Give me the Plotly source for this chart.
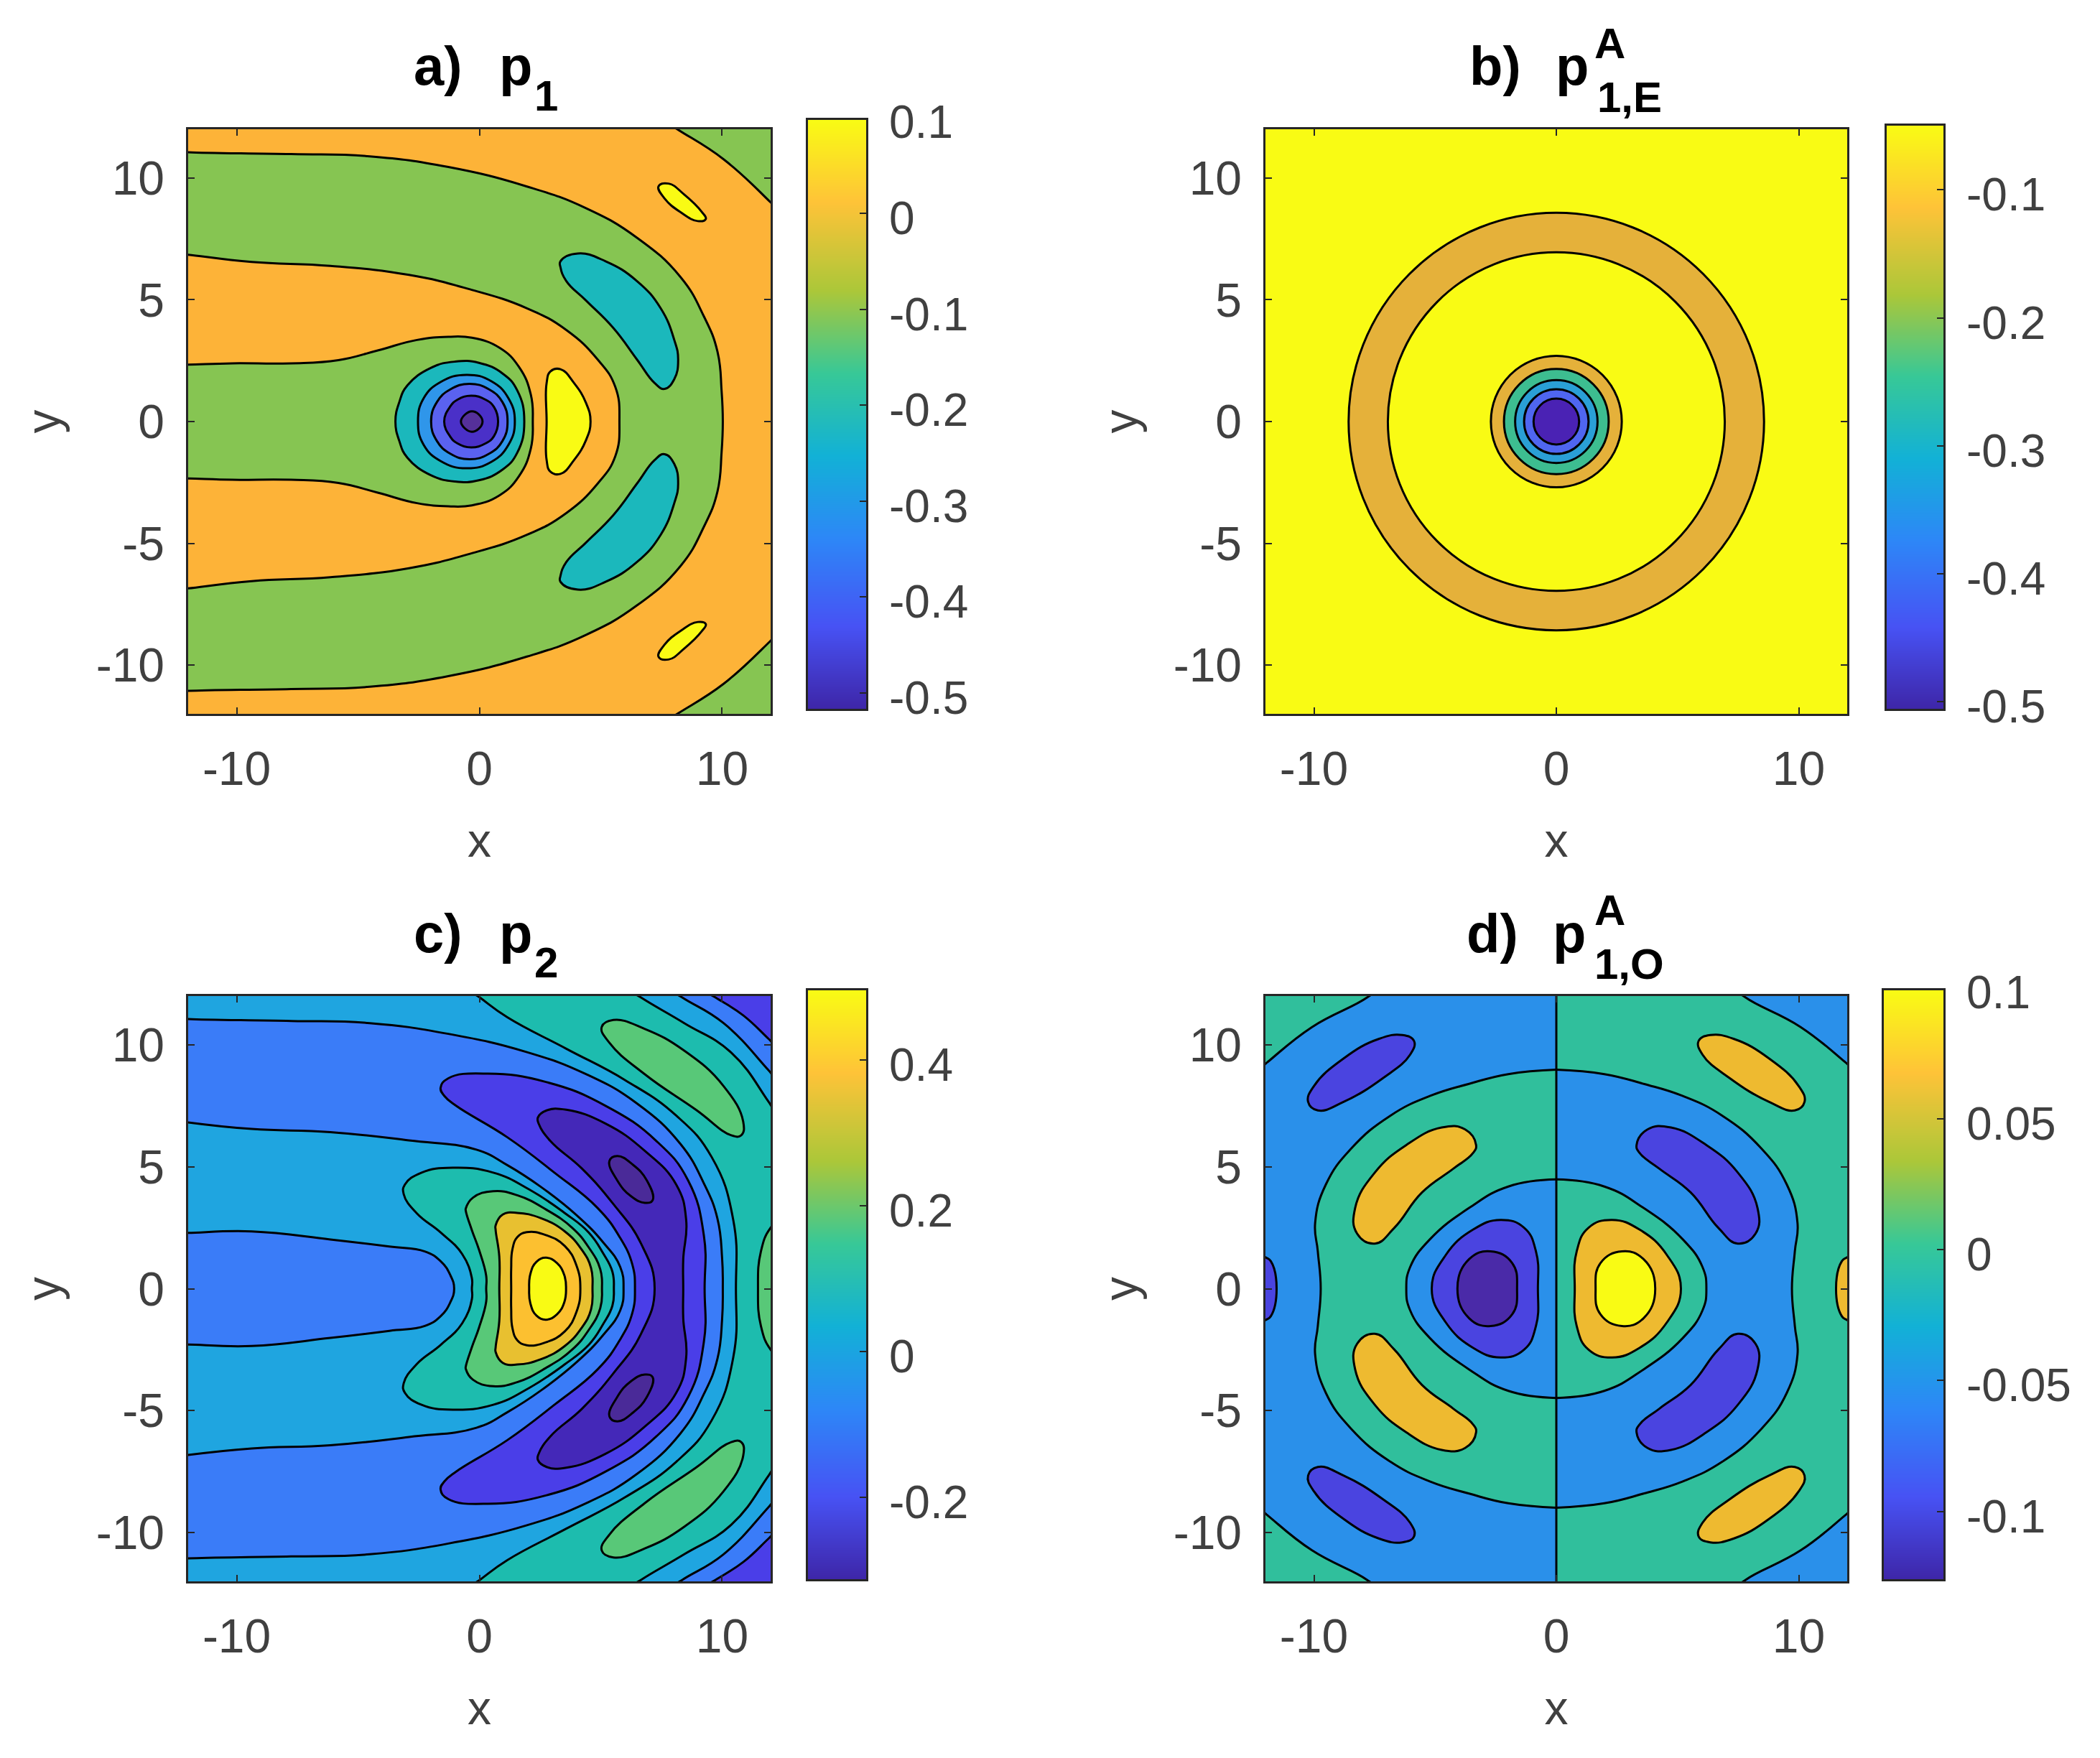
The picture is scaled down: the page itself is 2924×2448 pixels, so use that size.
import plotly.graph_objects as go

W, H = 2924, 2448
LW = 3
TICK_GREY = "#404040"

PARULA = [[0.0, "#3e26a8"], [0.14, "#4752f4"], [0.29, "#2d87f7"], [0.43, "#12b1d6"],
          [0.57, "#37c897"], [0.71, "#abc739"], [0.86, "#fec338"], [1.0, "#f9fb14"]]

# ---------------- panel a) p1 : isolines (x, y), upper half
A_OUTER = [(-12.5,11.1),(-12,11.06),(-7.76,10.98),(-4.52,10.89),(-1.28,10.45),(1.96,9.65),(4.39,8.76),(6.49,7.55),(8.28,5.94),(9.25,4.32),(9.81,2.87),(9.98,1.26),(10.03,0)]
A_MID = [(-12.5,6.9),(-12,6.85),(-9.38,6.55),(-6.14,6.39),(-2.9,6.02),(-0.47,5.45),(1.96,4.65),(3.58,3.76),(4.87,2.55),(5.6,1.42),(5.77,0)]
A_INNER = [(-12.5,2.34),(-12,2.34),(-10.19,2.39),(-7.76,2.39),(-5.81,2.52),(-4.19,2.92),(-2.57,3.35),(-1.28,3.48),(-0.31,3.44),(0.83,3.03),(1.64,2.23),(2.12,1.10),(2.2,0)]
A_RING1 = [(-3.46,0),(-3.3,0.8),(-2.97,1.48),(-1.99,2.21),(-1.0,2.46),(-0.02,2.41),(0.96,1.97),(1.56,1.28),(1.85,0)]
A_RING2 = [(-2.53,0),(-2.3,0.95),(-1.6,1.62),(-0.53,1.92),(0.5,1.65),(1.2,0.95),(1.46,0)]
A_RING3 = [(-1.99,0),(-1.75,0.8),(-1.2,1.32),(-0.41,1.55),(0.4,1.32),(0.95,0.8),(1.16,0)]
A_RING4 = [(-1.45,0),(-1.2,0.62),(-0.9,0.9),(-0.34,1.06),(0.25,0.9),(0.6,0.6),(0.77,0)]
A_RING5 = [(-0.76,0),(-0.6,0.28),(-0.31,0.42),(-0.03,0.3),(0.13,0)]
A_TEAL = [(3.34,6.58),(4.06,6.9),(5.2,6.58),(6.49,5.77),(7.47,4.65),(8.03,3.35),(8.19,2.55),(8.03,1.74),(7.63,1.34),(7.22,1.58),(6.49,2.55),(5.52,3.84),(4.39,4.97),(3.58,5.77),(3.34,6.34)]
A_LENS = [(2.77,0),(2.77,1.58),(2.93,2.06),(3.34,2.15),(3.9,1.58),(4.39,0.77),(4.58,0)]
A_SMALL = [(7.38,9.65),(7.79,9.77),(8.44,9.32),(9.17,8.6),(9.33,8.32),(9.0,8.23),(8.28,8.6),(7.63,9.16)]
A_CORNER = [(7.7,12.3),(8.19,11.98),(10.06,10.77),(12,9.0),(12.4,8.6),(12.5,12.5)]

# ---------------- panel b) p1,E^A : contour radii
B_RADII = [8.57, 6.95, 2.7, 2.16, 1.7, 1.33, 0.94]
B_FILLS = ["#e5b13a", "#f9fb14", "#e5b13a", "#3dbd90", "#2a9fd6", "#4f66f0", "#4a22b4"]

# ---------------- panel c) p2
C_BLUE = [(-12.5,11.1),(-12,11.06),(-7.76,10.98),(-4.52,10.89),(-1.28,10.45),(1.96,9.7),(4.39,8.8),(6.49,7.6),(8.28,5.94),(9.25,4.32),(9.81,2.87),(10.0,1.26),(10.03,0)]
C_LB = [(-12.5,6.9),(-12,6.82),(-9.38,6.55),(-6.14,6.42),(-2.9,6.08),(-0.12,5.7),(1.16,5.06),(2.54,4.17),(4.02,3.0),(5.1,1.9),(5.8,0.9),(5.94,0)]
C_LOBE = [(-12.5,2.29),(-12,2.29),(-9.38,2.35),(-6.14,2.02),(-3.71,1.73),(-2.25,1.53),(-1.6,1.13),(-1.2,0.56),(-1.04,0)]
C_TEAL_IN = [(-0.31,0),(-0.31,0.43),(-0.71,1.42),(-1.59,2.3),(-2.58,3.09),(-3.12,3.88),(-3.07,4.27),(-2.38,4.76),(-1.1,4.96),(0.57,4.76),(2.05,4.07),(3.52,3.1),(4.51,2.3),(5.1,1.45),(5.48,0.7),(5.54,0)]
C_GREEN = [(0.28,0),(0.28,0.53),(-0.02,1.61),(-0.31,2.4),(-0.56,3.19),(-0.56,3.29),(-0.27,3.73),(0.57,4.0),(1.56,3.83),(2.74,3.25),(3.82,2.5),(4.5,1.7),(4.98,0.8),(5.05,0)]
C_GOLD = [(0.82,0),(0.82,1.32),(0.67,2.4),(0.67,2.6),(0.96,3.04),(1.56,3.11),(2.54,2.89),(3.52,2.35),(4.21,1.61),(4.6,0.85),(4.66,0)]
C_ORANGE = [(1.31,0),(1.31,0.83),(1.36,1.61),(1.56,2.11),(1.95,2.32),(2.74,2.2),(3.52,1.75),(4.0,0.95),(4.16,0)]
C_YELLOW = [(2.05,0),(2.1,0.6),(2.35,1.1),(2.75,1.27),(3.2,1.05),(3.5,0.55),(3.57,0)]
C_VIOLET_OUT = [(-1.6,8.23),(-1.28,8.63),(0.34,8.82),(2.77,8.47),(5.2,7.5),(7.3,6.05),(8.6,4.44),(9.25,2.18),(9.28,0)]
C_VIOLET_IN = [(6.41,0),(6.3,1.0),(5.79,2.1),(4.87,3.31),(3.09,4.76),(1.15,6.21),(-0.96,7.5),(-1.44,7.9)]
C_INDIGO_OUT = [(2.41,7.02),(2.77,7.31),(3.58,7.34),(5.2,6.77),(6.82,5.65),(8.11,4.27),(8.52,2.82),(8.4,1.21),(8.4,0)]
C_INDIGO_IN = [(7.22,0),(6.66,1.85),(5.52,3.47),(4.23,4.92),(2.93,6.05),(2.45,6.75)]
C_DARK = [(5.36,5.24),(5.68,5.44),(6.33,5.08),(6.9,4.44),(7.14,3.63),(6.82,3.52),(6.25,3.79),(5.68,4.44)]
C_TEAL_OUT = [(-0.6,12.4),(0.02,11.94),(1.15,11.13),(3.58,9.84),(6.01,8.55),(8.11,7.1),(9.57,5.4),(10.46,2.82),(10.57,0)]
C_A = [(6.0,12.4),(6.66,11.94),(8.44,10.89),(10.38,9.68),(11.92,7.66),(12.5,6.8),(12.6,12.6)]
C_B = [(7.7,12.4),(8.36,11.94),(10.06,10.89),(11.92,8.95),(12.5,8.3),(12.6,12.6)]
C_C = [(9.0,12.4),(9.73,11.94),(10.87,11.21),(11.92,10.24),(12.5,9.7),(12.6,12.6)]
C_BLOB = [(5.04,10.73),(5.52,11.02),(6.82,10.65),(8.44,9.76),(10.06,8.31),(10.87,6.85),(10.79,6.29),(10.38,6.29),(8.92,7.34),(6.82,8.79),(5.36,10.08)]
C_EDGE = [(12.6,3.0),(12,2.5),(11.6,1.53),(11.48,0)]

# ---------------- panel d) p1,O^A (right half; the left half is the mirror with levels swapped)
D_E = [(0,8.98),(1.98,8.8),(3.6,8.4),(5.22,7.9),(6.84,7.1),(8.46,5.75),(9.51,4.27),(9.95,2.7),(9.84,1.53),(9.72,0)]
D_F = [(0,4.48),(1.98,4.19),(3.6,3.31),(5.22,2.02),(6.03,0.89),(6.19,0)]
D_CORNER = [(7.3,12.4),(7.81,11.94),(10.08,10.73),(11.94,9.27),(12.5,8.8),(12.6,12.6)]
D_SMALL = [(5.87,10.16),(6.35,10.4),(7.33,10.24),(8.78,9.44),(10,8.31),(10.24,7.66),(9.84,7.31),(8.78,7.66),(7.16,8.63),(6.03,9.6)]
D_BIG = [(3.31,5.89),(3.76,6.53),(4.73,6.61),(6.19,5.89),(7.49,4.76),(8.3,3.31),(8.22,2.26),(7.49,1.85),(6.68,2.5),(5.54,3.95),(4.25,4.92),(3.44,5.56)]
D_CORE = [(0.76,0),(0.84,1.53),(1.33,2.5),(2.3,2.82),(3.44,2.42),(4.57,1.37),(5.14,0)]
D_PEAK = [(1.62,0),(1.82,1.05),(2.71,1.53),(3.6,1.21),(4.08,0)]
D_EDGE = [(12.6,1.6),(12,1.29),(11.78,1.13),(11.54,0)]

XTICKS = [-10, 0, 10]
YTICKS = [-10, -5, 0, 5, 10]

# colorbars: (bar top value, bar bottom value, tick values, tick labels)
CB_A = (0.0973, -0.5165, [0.1, 0, -0.1, -0.2, -0.3, -0.4, -0.5], ["0.1", "0", "-0.1", "-0.2", "-0.3", "-0.4", "-0.5"])
CB_B = (-0.0498, -0.5056, [-0.1, -0.2, -0.3, -0.4, -0.5], ["-0.1", "-0.2", "-0.3", "-0.4", "-0.5"])
CB_C = (0.496, -0.312, [0.4, 0.2, 0, -0.2], ["0.4", "0.2", "0", "-0.2"])
CB_D = (0.099, -0.1259, [0.1, 0.05, 0, -0.05, -0.1], ["0.1", "0.05", "0", "-0.05", "-0.1"])


def mirror(pts):
    """close an upper-half isoline through its reflection in y = 0"""
    low = [(x, -y) for x, y in reversed(pts) if y != 0]
    return list(pts) + low

def flipy(pts):
    return [(x, -y) for x, y in pts]

def negx(pts):
    return [(-x, y) for x, y in pts]

def closed(pts):
    return list(pts) + [pts[0]]

fig = go.Figure()

def area(pts, color, ax, line=True, spline=True, close=True):
    p = closed(pts) if close else list(pts)
    fig.add_trace(go.Scatter(
        x=[a for a, _ in p], y=[b for _, b in p], mode="lines",
        fill="toself", fillcolor=color, hoverinfo="skip", showlegend=False,
        line=dict(color="#000000" if line else color, width=LW if line else 0,
                  shape="spline" if spline else "linear", smoothing=1.3, simplify=False),
        xaxis="x" + ax, yaxis="y" + ax))

def backdrop(color, ax, x0=-12.6, x1=12.6):
    area([(x0, -12.6), (x1, -12.6), (x1, 12.6), (x0, 12.6)], color, ax, line=False, spline=False)

# ---- a
ORANGE, GREEN, TEAL, YEL = "#fdb338", "#86c552", "#1bb8bc", "#f9fb14"
backdrop(ORANGE, "")
area(A_CORNER, GREEN, "")
area(flipy(A_CORNER), GREEN, "")
area(mirror(A_OUTER), GREEN, "")
area(mirror(A_MID), ORANGE, "")
area(mirror(A_INNER), GREEN, "")
area(A_TEAL, TEAL, "")
area(flipy(A_TEAL), TEAL, "")
area(mirror(A_LENS), YEL, "")
area(A_SMALL, YEL, "")
area(flipy(A_SMALL), YEL, "")
for ring, c in zip([A_RING1, A_RING2, A_RING3, A_RING4, A_RING5],
                   [TEAL, "#2f96ea", "#5a62f0", "#4a30c8", "#55309a"]):
    area(mirror(ring), c, "")

# ---- b
backdrop(YEL, "2")
for r, c in zip(B_RADII, B_FILLS):
    fig.add_shape(type="circle", xref="x2", yref="y2", x0=-r, x1=r, y0=-r, y1=r,
                  fillcolor=c, line=dict(color="#000000", width=LW), layer="above")

# ---- c
LB, BLUE, VIOLET, INDIGO, DARK = "#1fa5e0", "#3a7cf8", "#4a3ee8", "#4428b8", "#4a2a98"
CTEAL, CGREEN, GOLD, CORANGE = "#1dbcae", "#58c878", "#e8c030", "#fcc030"
backdrop(LB, "3")
area(mirror(C_TEAL_OUT) + [(12.8, -12.6), (12.8, 12.6)], CTEAL, "3")
for poly, c in [(C_A, LB), (C_B, BLUE), (C_C, VIOLET)]:
    area(poly, c, "3")
    area(flipy(poly), c, "3")
area(C_BLOB, CGREEN, "3")
area(flipy(C_BLOB), CGREEN, "3")
area(mirror(C_EDGE), CGREEN, "3")
area(mirror(C_BLUE), BLUE, "3")
area(C_VIOLET_OUT + flipy(C_VIOLET_OUT)[::-1][1:] + flipy(C_VIOLET_IN)[::-1] + C_VIOLET_IN[1:], VIOLET, "3")
area(C_INDIGO_OUT + flipy(C_INDIGO_OUT)[::-1][1:] + flipy(C_INDIGO_IN)[::-1] + C_INDIGO_IN[1:], INDIGO, "3")
area(C_DARK, DARK, "3")
area(flipy(C_DARK), DARK, "3")
area(mirror(C_LB), LB, "3")
area(mirror(C_LOBE), BLUE, "3")
area(mirror(C_TEAL_IN), CTEAL, "3")
area(mirror(C_GREEN), CGREEN, "3")
area(mirror(C_GOLD), GOLD, "3")
area(mirror(C_ORANGE), CORANGE, "3")
area(mirror(C_YELLOW), YEL, "3")

# ---- d
DLB, DGREEN, DGOLD, DVIOLET, DDARK = "#2a90ea", "#30bf9c", "#eeba30", "#4a44e0", "#4a2aa8"
def half(sign, outer_c, inner_c, hi_c, top_c, edge_c):
    f = (lambda p: p) if sign > 0 else negx
    backdrop(outer_c, "4", *((0, 12.6) if sign > 0 else (-12.6, 0)))
    area(f(D_CORNER), inner_c, "4")
    area(f(flipy(D_CORNER)), inner_c, "4")
    area(f(mirror(D_E)), inner_c, "4", close=False)
    area(f(mirror(D_F)), outer_c, "4", close=False)
    for blob, c in [(D_SMALL, hi_c), (D_BIG, edge_c)]:
        area(f(blob), c, "4")
        area(f(flipy(blob)), c, "4")
    area(f(mirror(D_CORE)), hi_c, "4")
    area(f(mirror(D_PEAK)), top_c, "4")
    area(f(mirror(D_EDGE)), hi_c, "4")

half(+1, DGREEN, DLB, DGOLD, YEL, DVIOLET)
half(-1, DLB, DGREEN, DVIOLET, DDARK, DGOLD)
fig.add_trace(go.Scatter(x=[0, 0], y=[-12, 12], mode="lines", hoverinfo="skip", showlegend=False,
                         line=dict(color="#000000", width=LW), xaxis="x4", yaxis="y4"))

# ---- layout
def fx(px): return px / W
def fy(py): return 1 - py / H

PANELS = {"": (262, 1073, 180, 994), "2": (1762, 2572, 180, 994),
          "3": (262, 1073, 1387, 2202), "4": (1762, 2572, 1387, 2202)}
BARS = {"5": (1125, 1206, 167, 987, CB_A), "6": (2627, 2706, 175, 987, CB_B),
        "7": (1125, 1206, 1379, 2199, CB_C), "8": (2623, 2706, 1379, 2199, CB_D)}

layout = dict(width=W, height=H, autosize=False, margin=dict(l=0, r=0, t=0, b=0),
              paper_bgcolor="#ffffff", plot_bgcolor="#ffffff", showlegend=False)
font = dict(family="Liberation Sans, Arial, sans-serif", size=64, color=TICK_GREY)
axfont = dict(family="Liberation Sans, Arial, sans-serif", size=66, color=TICK_GREY)
for k, (l, r, t, b) in PANELS.items():
    common = dict(range=[-12, 12], showgrid=False, zeroline=False, showline=True, linecolor="#262626",
                  linewidth=2.5, mirror="ticks", ticks="inside", ticklen=9, tickwidth=2, tickcolor="#262626",
                  tickfont=axfont)
    layout["xaxis" + k] = dict(domain=[fx(l), fx(r)], anchor="y" + k, tickvals=XTICKS,
                               ticktext=[str(v) for v in XTICKS], ticklabelstandoff=17,
                               title=dict(text="x", font=axfont, standoff=41), **common)
    layout["yaxis" + k] = dict(domain=[fy(b), fy(t)], anchor="x" + k, tickvals=YTICKS,
                               ticktext=[str(v) for v in YTICKS], ticklabelstandoff=17,
                               title=dict(text="y", font=axfont, standoff=29), **common)

annots = []
for k, (l, r, t, b, cb) in BARS.items():
    hi, lo, tv, tl = cb
    fig.add_trace(go.Heatmap(z=[[lo, lo], [hi, hi]], y=[lo, hi], x=[0, 1], zsmooth="best",
                             colorscale=PARULA, zmin=lo, zmax=hi, showscale=False, hoverinfo="skip",
                             xaxis="x" + k, yaxis="y" + k))
    layout["xaxis" + k] = dict(domain=[fx(l), fx(r)], anchor="y" + k, range=[0, 1], showticklabels=False,
                               ticks="", showgrid=False, zeroline=False, showline=True, mirror=True,
                               linecolor="#262626", linewidth=2.5)
    layout["yaxis" + k] = dict(domain=[fy(b), fy(t)], anchor="x" + k, range=[lo, hi], side="right",
                               tickvals=tv, ticks="inside", ticklen=9, tickwidth=2, tickcolor="#262626",
                               showticklabels=False, showgrid=False, zeroline=False, showline=True,
                               mirror=True, linecolor="#262626", linewidth=2.5)
    for v, s in zip(tv, tl):
        # the 0.1 labels sit at the very end of their bars, so place them by paper position
        py = t + (hi - v) / (hi - lo) * (b - t) + 7
        annots.append(dict(text=s, xref="paper", yref="paper", x=fx(r + 30), y=fy(py),
                           xanchor="left", yanchor="middle", showarrow=False, font=font))

def title_piece(text, px, py, size):
    annots.append(dict(text="<b>%s</b>" % text, xref="paper", yref="paper", x=fx(px), y=fy(py),
                       xanchor="left", yanchor="middle", showarrow=False,
                       font=dict(family="Liberation Sans, Arial, sans-serif", size=size, color="#000000")))

ROW2 = 1207
title_piece("a)", 574, 92, 76); title_piece("p", 693, 92, 76); title_piece("1", 742, 133, 60)
title_piece("b)", 2044, 92, 76); title_piece("p", 2164, 92, 76)
title_piece("A", 2218, 60, 60); title_piece("1,E", 2222, 135, 60)
title_piece("c)", 574, 92 + ROW2, 76); title_piece("p", 693, 92 + ROW2, 76); title_piece("2", 742, 133 + ROW2, 60)
title_piece("d)", 2040, 92 + ROW2, 76); title_piece("p", 2160, 92 + ROW2, 76)
title_piece("A", 2218, 60 + ROW2, 60); title_piece("1,O", 2218, 135 + ROW2, 60)

layout["annotations"] = annots
fig.update_layout(**layout)
fig.write_html("out.html", post_script="document.body.style.margin='0';",
               config={"displayModeBar": False})
